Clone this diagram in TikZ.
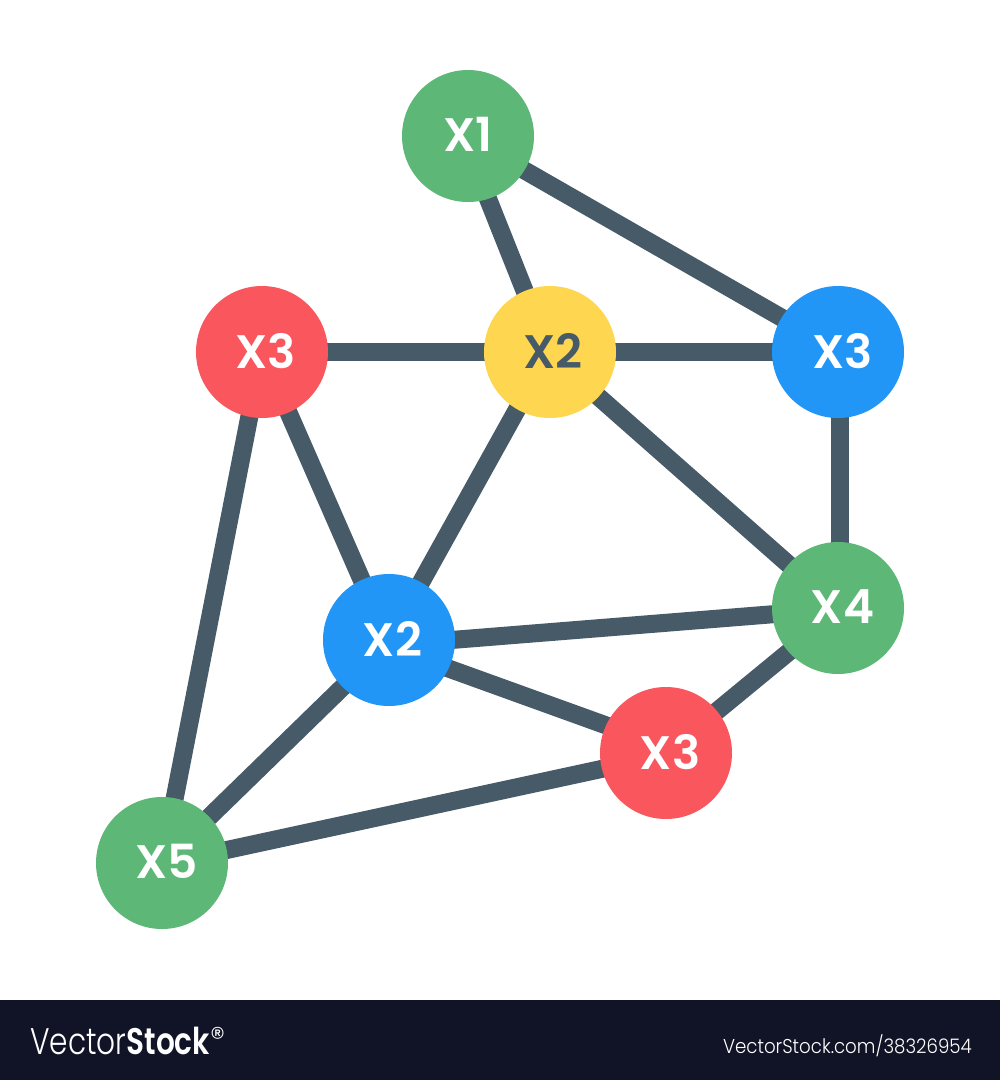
\documentclass[tikz,border=0pt]{standalone}
\usepackage{fontspec}
\usepackage{graphicx}
\usetikzlibrary{backgrounds}
\setmainfont{Poppins}[UprightFont=*-SemiBold,BoldFont=*-Bold]
\newfontfamily\ft{Poppins}[UprightFont=*-Light,BoldFont=*-SemiBold]
\definecolor{edgec}{HTML}{465A68}
\definecolor{grn}{HTML}{5DB877}
\definecolor{redc}{HTML}{F9565E}
\definecolor{bluc}{HTML}{2196F7}
\definecolor{yel}{HTML}{FFD64F}
\definecolor{barc}{HTML}{111427}
\newcommand{\lbl}[2][0pt]{\hspace{#1}\raisebox{3pt}{\fontsize{47}{47}\selectfont #2}}
\tikzset{
  x=1pt,y=-1pt,
  vertex/.style={circle,minimum size=132pt,inner sep=0pt,text=white},
  edge/.style={draw=edgec,line width=18pt},
  foot/.style={text=white,inner sep=0pt},
}
\begin{document}
\begin{tikzpicture}
\useasboundingbox (0,0) rectangle (1000,1080);
\node[vertex,fill=grn] (x1) at (468,136) {\lbl{X1}};
\node[vertex,fill=yel,text=edgec] (x2y) at (550,352) {\lbl[6pt]{X2}};
\node[vertex,fill=redc] (x3r) at (262,352) {\lbl[7pt]{X3}};
\node[vertex,fill=bluc] (x3b) at (838,352) {\lbl[9pt]{X3}};
\node[vertex,fill=grn] (x4) at (838,608) {\lbl[9pt]{X4}};
\node[vertex,fill=bluc] (x2b) at (389,640) {\lbl[7pt]{X2}};
\node[vertex,fill=redc] (x3s) at (666,753) {\lbl[8pt]{X3}};
\node[vertex,fill=grn] (x5) at (162,863) {\lbl[10pt]{X5}};
\begin{pgfonlayer}{background}
\fill[white] (0,0) rectangle (1000,1080);
\fill[barc] (0,1000) rectangle (1000,1080);
\foreach \a/\sa/\b/\sb in {
  x1/{-5,0}/x2y/{-1,0},
  x1/{0,2}/x3b/{0,-2},
  x3r/{0,0}/x2y/{0,0},
  x2y/{0,0}/x3b/{0,0},
  x3b/{2,0}/x4/{2,0},
  x3r/{0,0}/x5/{0,0},
  x3r/{0,0}/x2b/{-1,0},
  x2y/{-1,0}/x2b/{0,0},
  x2y/{0,2}/x4/{0,0},
  x2b/{0,5}/x4/{0,1},
  x2b/{0,7}/x3s/{0,-6},
  x2b/{0,2}/x5/{0,0},
  x4/{0,3.5}/x3s/{0,0},
  x5/{0,1}/x3s/{0,2}}
  \draw[edge] ([shift={(\sa)}]\a.center) -- ([shift={(\sb)}]\b.center);
\end{pgfonlayer}
\node[foot,anchor=base west] (logo) at (30,1054) {\scalebox{0.8}[1]{\ft\fontsize{37}{37}\selectfont Vector\textbf{Stock}}};
\node[foot,anchor=base west] (reg) at (210,1048) {\ft\fontsize{30}{30}\selectfont\textregistered};
\node[foot,anchor=base east] (url) at (972,1053) {\scalebox{0.91}[1]{\ft\fontsize{20}{20}\selectfont VectorStock.com/38326954}};
\end{tikzpicture}
\end{document}
